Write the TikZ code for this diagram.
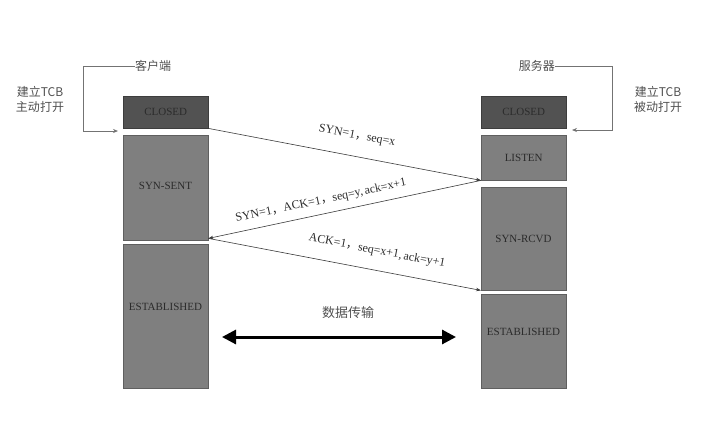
\documentclass[tikz,border=0pt]{standalone}
\usepackage{fontspec}
\setmainfont{Liberation Serif}
\newfontfamily\cjk{Noto Sans CJK SC}
\usetikzlibrary{arrows.meta}
\definecolor{darkbox}{HTML}{525252}
\definecolor{midbox}{HTML}{7F7F7F}
\definecolor{txt}{HTML}{2B2B2B}
\definecolor{linec}{HTML}{3A3A3A}
\definecolor{note}{HTML}{505050}
\begin{document}
\begin{tikzpicture}[x=1pt,y=-1pt,
  statebox/.style={draw=#1!75!black, fill=#1, minimum width=85pt, inner sep=0pt, anchor=north west},
  boxtext/.style={text=txt, font=\fontsize{11}{13}\selectfont, inner sep=0pt},
  msg/.style={draw=linec, line width=0.6pt, -{Stealth[length=5pt,width=3.5pt]}},
  msgtext/.style={text=txt, font=\fontsize{12}{14}\selectfont, inner sep=0pt},
  notetext/.style={text=note, font=\cjk\fontsize{12}{15}\selectfont, align=center, inner sep=0pt},
  bracket/.style={draw=note!80, line width=0.7pt, -{Stealth[length=5pt,width=4pt]}},
  dataarrow/.style={draw=black, line width=3pt, {Triangle[length=14pt,width=14pt]}-{Triangle[length=14pt,width=14pt]}}
]
\useasboundingbox (0,0) rectangle (711,429);

% left column (client)
\node[statebox=darkbox, minimum height=32pt] (lc) at (123,96) {};
\node[statebox=midbox, minimum height=105pt] (ls) at (123,135) {};
\node[statebox=midbox, minimum height=144pt] (le) at (123,244) {};
\node[boxtext] (lct) at (lc.center) {CLOSED};
\node[boxtext] (lst) at (165.5,186) {SYN-SENT};
\node[boxtext] (let) at (165.5,307) {ESTABLISHED};

% right column (server)
\node[statebox=darkbox, minimum height=32pt] (rc) at (481,96) {};
\node[statebox=midbox, minimum height=45pt] (rl) at (481,135) {};
\node[statebox=midbox, minimum height=103pt] (rs) at (481,187) {};
\node[statebox=midbox, minimum height=94pt] (re) at (481,294) {};
\node[boxtext] (rct) at (rc.center) {CLOSED};
\node[boxtext] (rlt) at (rl.center) {LISTEN};
\node[boxtext] (rst) at (523.5,239) {SYN-RCVD};
\node[boxtext] (ret) at (523.5,332) {ESTABLISHED};

% messages
\draw[msg] (lc.south east) -- (rl.south west);
\draw[msg] (rl.south west) -- ([yshift=2pt]ls.south east);
\draw[msg] ([yshift=2pt]ls.south east) -- (rs.south west);

\node[msgtext, rotate=-11] (m1) at (357,136) {SYN=1{\cjk ，}seq=x};
\node[msgtext, rotate=12] (m2) at (321,201) {SYN=1{\cjk ，}ACK=1{\cjk ，}seq=y,\,ack=x+1};
\node[msgtext, rotate=-11] (m3) at (377,251) {ACK=1{\cjk ，}seq=x+1,\,ack=y+1};

% data transfer
\coordinate (da) at (222,337);
\coordinate (db) at (456,337);
\draw[dataarrow] (da) -- (db);
\node[notetext, font=\cjk\fontsize{13}{15}\selectfont] (dt) at (348,313) {数据传输};

% client / server labels and brackets
\node[notetext, anchor=west] (cl) at (135,66) {客户端};
\coordinate (cla) at (118,131);
\draw[bracket] (cl.west) -| (83,131) -- (cla);
\node[notetext] (cn) at (40,99) {建立TCB\\主动打开};

\node[notetext, anchor=east] (sv) at (555,66) {服务器};
\coordinate (sva) at (572,130);
\draw[bracket] (sv.east) -| (612,130) -- (sva);
\node[notetext] (sn) at (658,99) {建立TCB\\被动打开};
\end{tikzpicture}
\end{document}
